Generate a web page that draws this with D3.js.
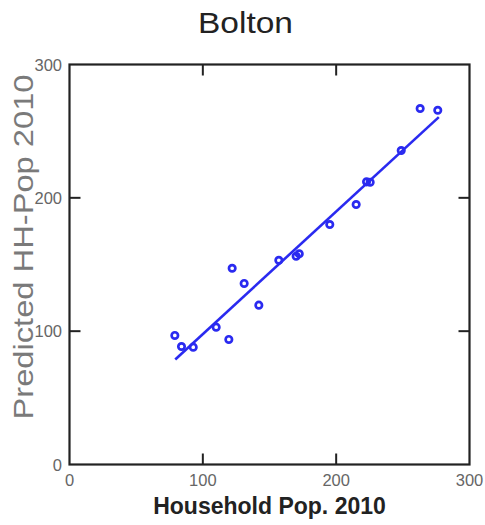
<!DOCTYPE html>
<html><head><meta charset="utf-8">
<script src="https://cdn.jsdelivr.net/npm/d3@7"></script>
<style>html,body{margin:0;padding:0;background:#fff;}</style>
</head><body>
<script>
const title = "Bolton";
const xTitle = "Household Pop. 2010";
const yTitle = "Predicted HH-Pop 2010";
const householdPop = [79.0, 84.0, 92.8, 110.0, 119.5, 122.0, 131.0, 142.0, 157.0, 170.0, 172.3, 195.2, 215.0, 222.8, 225.5, 248.8, 263.0, 276.2];
const predictedPop = [96.8, 88.5, 88.0, 103.0, 93.8, 147.2, 135.8, 119.5, 153.2, 156.2, 158.0, 180.0, 195.0, 212.0, 211.7, 235.5, 267.0, 265.7];
const fitX = [79.3, 277.0];
const fitY = [78.8, 260.5];
const xTicks = [0, 100, 200, 300];
const yTicks = [0, 100, 200, 300];

const W = 485, H = 525;
const m = {left: 69.5, top: 64.5, w: 400, h: 400};
const svg = d3.select("body").append("svg").attr("width", W).attr("height", H);
const x = d3.scaleLinear().domain([0, 300]).range([m.left, m.left + m.w]);
const y = d3.scaleLinear().domain([0, 300]).range([m.top + m.h, m.top]);
const font = "'Liberation Sans', Arial, sans-serif";

// inner ticks on all sides
const inner = [100, 200];
const g = svg.append("g").attr("stroke", "#222").attr("stroke-width", 2);
g.selectAll(".tb").data(inner).join("line")
  .attr("x1", d => x(d)).attr("x2", d => x(d)).attr("y1", y(0)).attr("y2", y(0) - 11);
g.selectAll(".tt").data(inner).join("line")
  .attr("x1", d => x(d)).attr("x2", d => x(d)).attr("y1", y(300)).attr("y2", y(300) + 11);
g.selectAll(".tl").data(inner).join("line")
  .attr("x1", x(0)).attr("x2", x(0) + 11).attr("y1", d => y(d)).attr("y2", d => y(d));
g.selectAll(".tr").data(inner).join("line")
  .attr("x1", x(300)).attr("x2", x(300) - 11).attr("y1", d => y(d)).attr("y2", d => y(d));
svg.append("rect").attr("x", x(0)).attr("y", y(300)).attr("width", x(300) - x(0)).attr("height", y(0) - y(300))
  .attr("fill", "none").attr("stroke", "#222").attr("stroke-width", 2.2);

// tick labels
svg.selectAll(".xl").data(xTicks).join("text")
  .attr("x", d => x(d)).attr("y", 486).attr("text-anchor", "middle")
  .attr("font-family", font).attr("font-size", 16.5).attr("fill", "#666").text(d => d);
svg.selectAll(".yl").data(yTicks).join("text")
  .attr("x", 62).attr("y", d => y(d) + 6).attr("text-anchor", "end")
  .attr("font-family", font).attr("font-size", 16.5).attr("fill", "#666").text(d => d);

// titles
svg.append("text").attr("x", 245.5).attr("y", 33).attr("text-anchor", "middle")
  .attr("font-family", font).attr("font-size", 30).attr("fill", "#222")
  .attr("textLength", 95).attr("lengthAdjust", "spacingAndGlyphs").text(title);
svg.append("text").attr("x", 269.5).attr("y", 514).attr("text-anchor", "middle")
  .attr("font-family", font).attr("font-size", 23).attr("font-weight", "bold").attr("fill", "#222").text(xTitle);
svg.append("text").attr("transform", "translate(33,247) rotate(-90)").attr("text-anchor", "middle")
  .attr("font-family", font).attr("font-size", 28).attr("fill", "#7a7a7a")
  .attr("textLength", 345).attr("lengthAdjust", "spacingAndGlyphs").text(yTitle);

// fit line
svg.append("line").attr("x1", x(fitX[0])).attr("y1", y(fitY[0])).attr("x2", x(fitX[1])).attr("y2", y(fitY[1]))
  .attr("stroke", "#2a2af0").attr("stroke-width", 2.6);

// points
svg.selectAll(".pt").data(householdPop).join("circle")
  .attr("cx", d => x(d)).attr("cy", (d, i) => y(predictedPop[i])).attr("r", 3.2)
  .attr("fill", "none").attr("stroke", "#2a2af0").attr("stroke-width", 2.7);
</script>
</body></html>
